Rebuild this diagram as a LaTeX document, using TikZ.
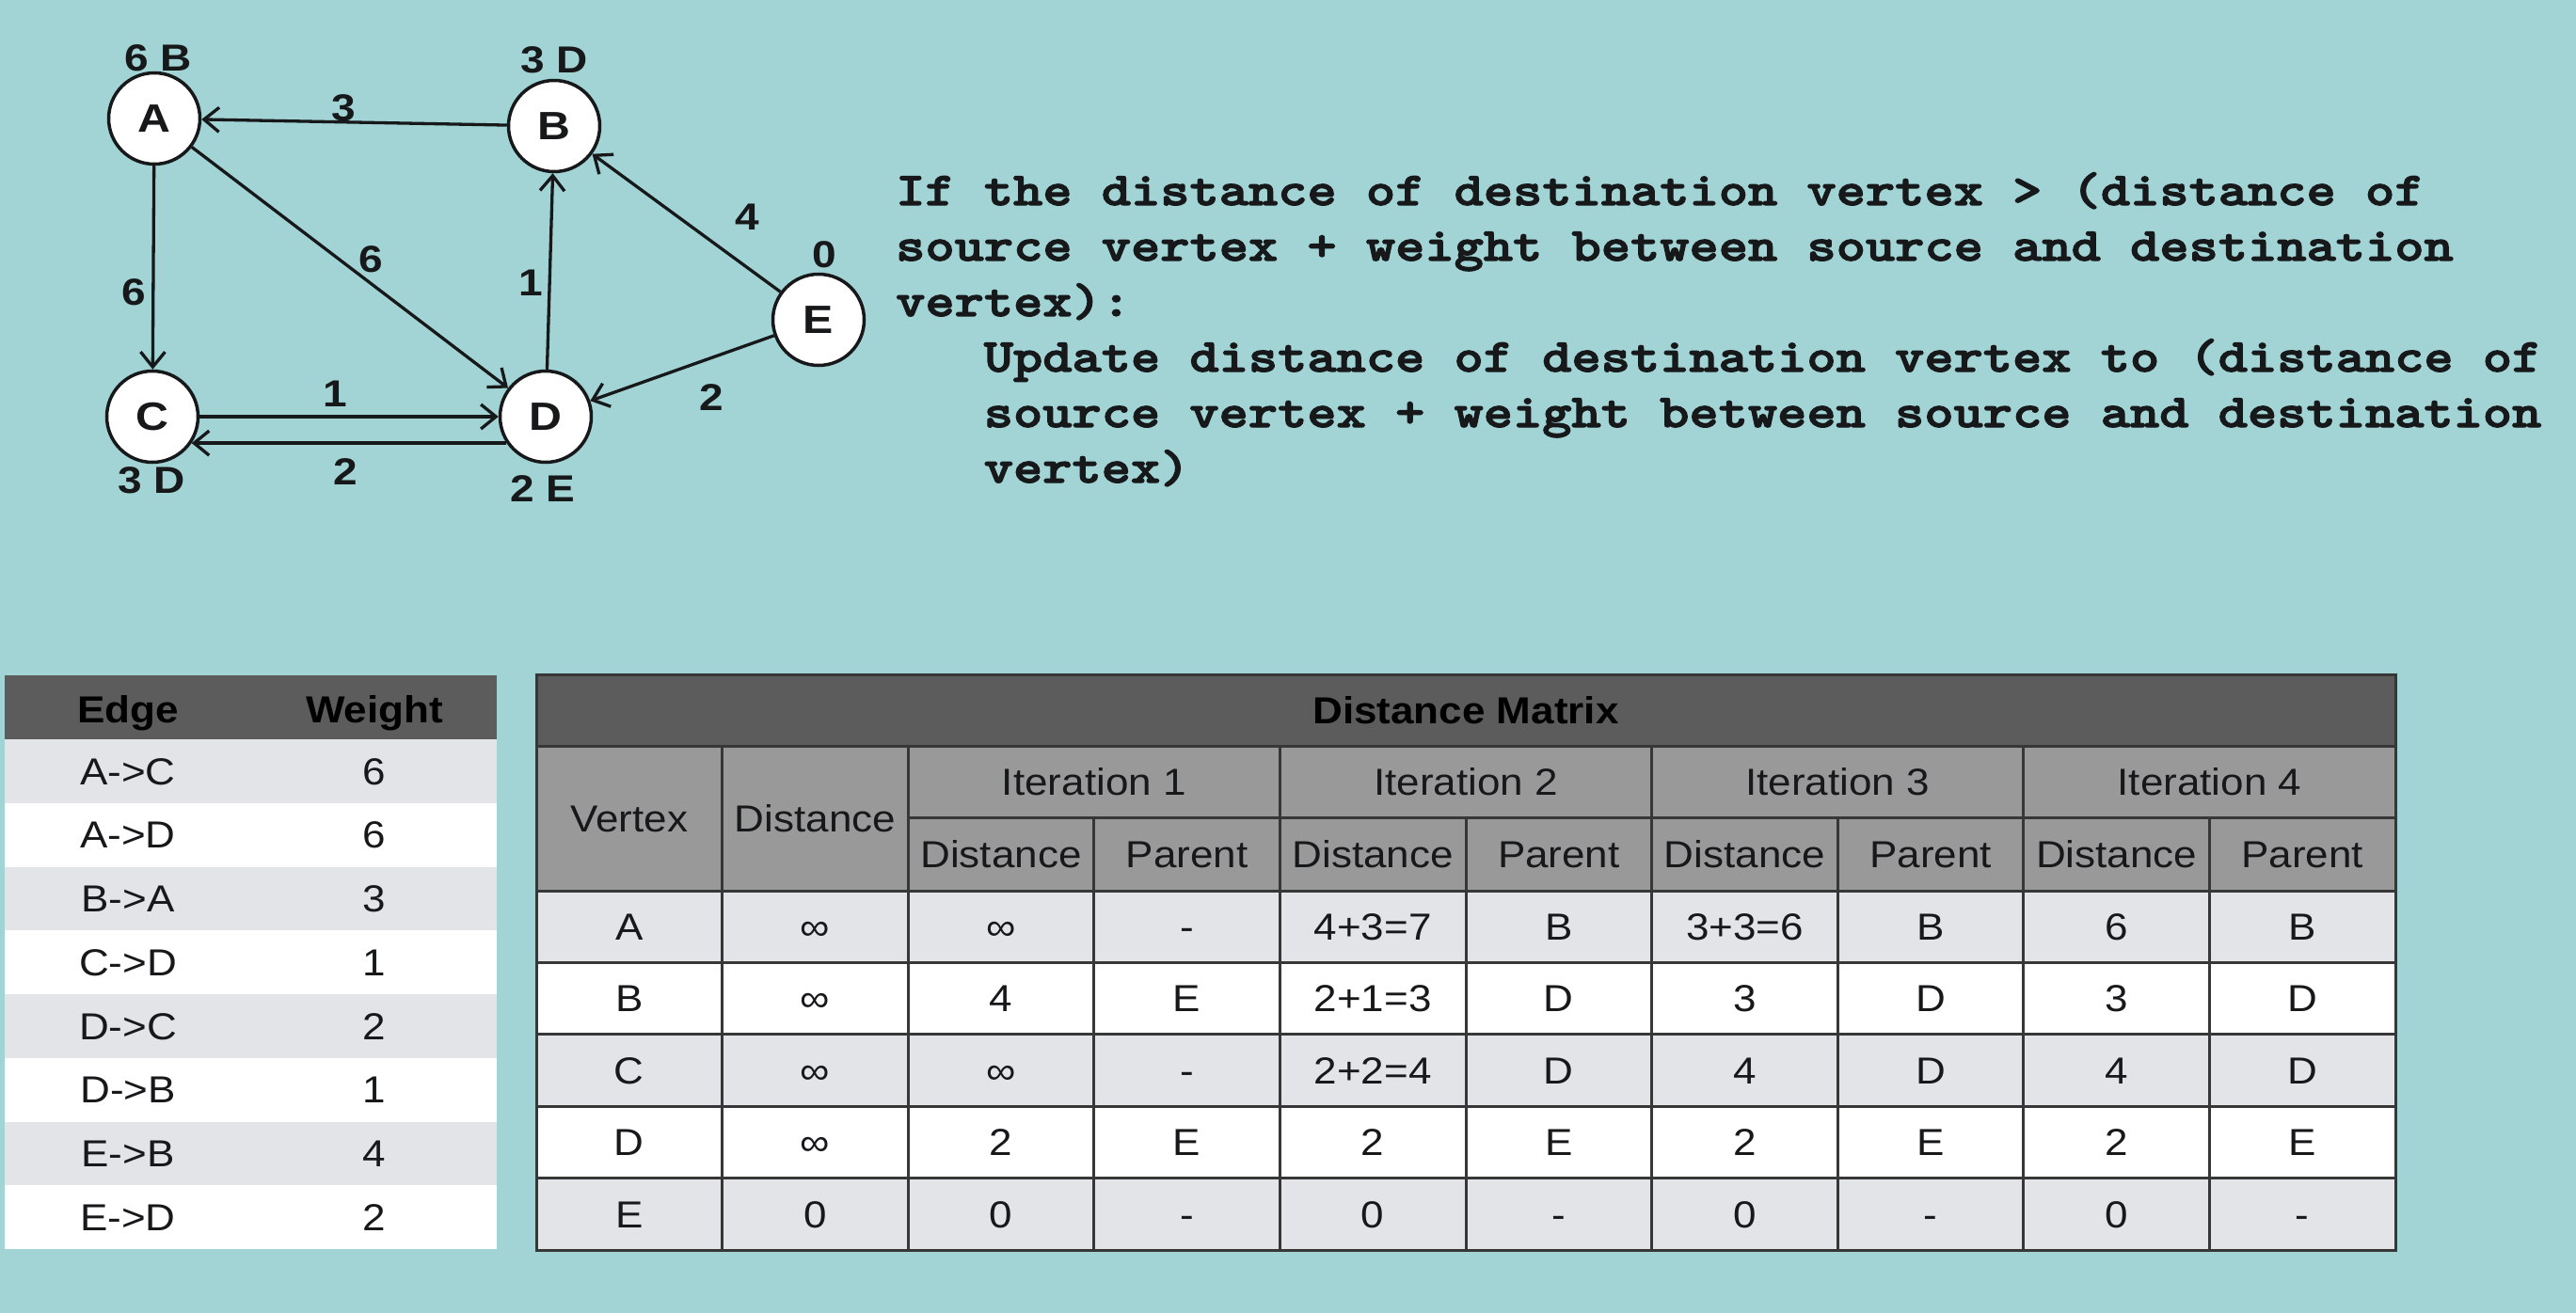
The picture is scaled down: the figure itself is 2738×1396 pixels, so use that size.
\documentclass[tikz,border=0pt]{standalone}
\usepackage{fontspec}
\setmainfont{Liberation Sans}
\newfontfamily\widesans{Liberation Sans}[FakeStretch=1.1]
\newfontfamily\graphsans{Liberation Sans}[FakeStretch=1.15]
\usetikzlibrary{arrows.meta}

% heavy typewriter face for the relaxation rule
\font\codefont="[lmmonolt10-bold]:embolden=2.5;extend=1.19" at 50pt

\definecolor{bg}{RGB}{162,211,213}
\definecolor{hdrdark}{RGB}{92,92,92}
\definecolor{hdrmid}{RGB}{153,153,153}
\definecolor{rowgray}{RGB}{227,228,232}
\definecolor{gridc}{RGB}{55,55,55}
\definecolor{ink}{RGB}{22,24,26}

\newcommand\graphsize{\fontsize{40}{42}\selectfont}
\newcommand\vtxsize{\fontsize{42}{44}\selectfont}
\newcommand\tablesize{\fontsize{40}{42}\selectfont}

\tikzset{
  vtx/.style={circle, draw=ink, line width=3.5pt, fill=white, minimum size=97pt,
    inner sep=0pt, text=ink, font=\graphsans\bfseries\vtxsize},
  edge/.style={draw=ink, line width=3.3pt, -{Straight Barb[length=16pt,width=26pt]}},
  glabel/.style={inner sep=0pt, text=ink, font=\graphsans\bfseries\graphsize},
  code/.style={anchor=base west, inner sep=0pt, text=ink, font=\codefont},
  cell/.style={inner sep=0pt, text height=28.6pt, text depth=0pt, text=ink, font=\widesans\tablesize},
  hcell/.style={inner sep=0pt, text height=28.6pt, text depth=0pt, text=black, font=\widesans\bfseries\tablesize},
  grid/.style={draw=gridc, line width=3pt},
}

\begin{document}
\begin{tikzpicture}[x=1pt,y=-1pt]
\fill[bg] (0,0) rectangle (2738,1396);
\useasboundingbox (0,0) rectangle (2738,1396);

% ---------- graph ----------
\node[vtx] (A) at (164,126) {A};
\node[vtx] (B) at (589,134) {B};
\node[vtx] (C) at (162,443) {C};
\node[vtx] (D) at (580,443) {D};
\node[vtx] (E) at (870,340) {E};

\draw[edge] (B) -- (A);
\draw[edge] (A) -- (C);
\draw[edge] (A) -- (D);
\draw[edge] (D) -- (B);
\draw[edge] (E) -- (B);
\draw[edge] (E) -- (D);
\draw[edge] (C) -- (D);
\draw[edge] (D.214) -- (C.-34);

% distance / parent labels
\node[glabel] (dA) at (168,62) {6 B};
\node[glabel] (dB) at (589,64) {3 D};
\node[glabel] (dC) at (161,511) {3 D};
\node[glabel] (dD) at (577,520) {2 E};
\node[glabel] (dE) at (876,271) {0};

% edge weights
\node[glabel] (wBA) at (365,115) {3};
\node[glabel] (wAD) at (394,276) {6};
\node[glabel] (wAC) at (142,311) {6};
\node[glabel] (wDB) at (564,301) {1};
\node[glabel] (wEB) at (794,231) {4};
\node[glabel] (wED) at (756,423) {2};
\node[glabel] (wCD) at (356,419) {1};
\node[glabel] (wDC) at (367,502) {2};

% ---------- relaxation rule ----------
\node[code] (r1) at (952,218) {If the distance of destination vertex > (distance of};
\node[code] (r2) at (952,277) {source vertex + weight between source and destination};
\node[code] (r3) at (952,336) {vertex):};
\node[code] (r4) at (1045.6,395) {Update distance of destination vertex to (distance of};
\node[code] (r5) at (1045.6,454) {source vertex + weight between source and destination};
\node[code] (r6) at (1045.6,513) {vertex)};

% ---------- edge list ----------
\fill[hdrdark] (5,718) rectangle (528,786);
\foreach \i in {0,...,7}{
  \pgfmathsetmacro\ytop{786+67.75*\i}
  \pgfmathtruncatemacro\odd{mod(\i,2)}
  \ifnum\odd=0 \fill[rowgray] (5,\ytop) rectangle (528,\ytop+67.75);
  \else \fill[white] (5,\ytop) rectangle (528,\ytop+67.75); \fi
}
\node[hcell] (eh1) at (136,754) {Edge};
\node[hcell] (eh2) at (398,754) {Weight};
\foreach \e/\w [count=\i] in {A->C/6, A->D/6, B->A/3, C->D/1, D->C/2, D->B/1, E->B/4, E->D/2}{
  \node[cell] (e-\i) at (136,{786+67.75*(\i-0.5)}) {\e};
  \node[cell] (w-\i) at (398,{786+67.75*(\i-0.5)}) {\w};
}

% ---------- distance matrix ----------
\fill[hdrdark] (570,717) rectangle (2546,793);
\fill[hdrmid] (570,793) rectangle (2546,947);
\foreach \i in {0,...,4}{
  \pgfmathsetmacro\ytop{947+76.4*\i}
  \pgfmathtruncatemacro\odd{mod(\i,2)}
  \ifnum\odd=0 \fill[rowgray] (570,\ytop) rectangle (2546,\ytop+76.4);
  \else \fill[white] (570,\ytop) rectangle (2546,\ytop+76.4); \fi
}
% rules
\draw[grid] (570,793) -- (2546,793);
\draw[grid] (965.2,869) -- (2546,869);
\foreach \y in {947,1023.4,1099.8,1176.2,1252.6}{ \draw[grid] (570,\y) -- (2546,\y); }
\foreach \x in {767.6,965.2,1360.4,1755.6,2150.8}{ \draw[grid] (\x,793) -- (\x,1329); }
\foreach \x in {1162.8,1558,1953.2,2348.4}{ \draw[grid] (\x,869) -- (\x,1329); }
\draw[grid] (570,717) rectangle (2546,1329);

\node[hcell] (mt) at (1558,755) {Distance Matrix};
\node[cell] (hv) at (668.8,870) {Vertex};
\node[cell] (hd) at (866.4,870) {Distance};
\foreach \k in {1,...,4}{
  \node[cell] (it-\k) at ({570+197.6*(2*\k+1)},831) {Iteration \k};
  \node[cell] (sd-\k) at ({570+197.6*(2*\k+0.5)},908) {Distance};
  \node[cell] (sp-\k) at ({570+197.6*(2*\k+1.5)},908) {Parent};
}
\foreach \row [count=\r] in {
  {A,∞,∞,-,4+3=7,B,3+3=6,B,6,B},
  {B,∞,4,E,2+1=3,D,3,D,3,D},
  {C,∞,∞,-,2+2=4,D,4,D,4,D},
  {D,∞,2,E,2,E,2,E,2,E},
  {E,0,0,-,0,-,0,-,0,-}}{
  \foreach \val [count=\c] in \row {
    \node[cell] (m-\r-\c) at ({570+197.6*(\c-0.5)},{947+76.4*(\r-0.5)}) {\val};
  }
}
\end{tikzpicture}
\end{document}
